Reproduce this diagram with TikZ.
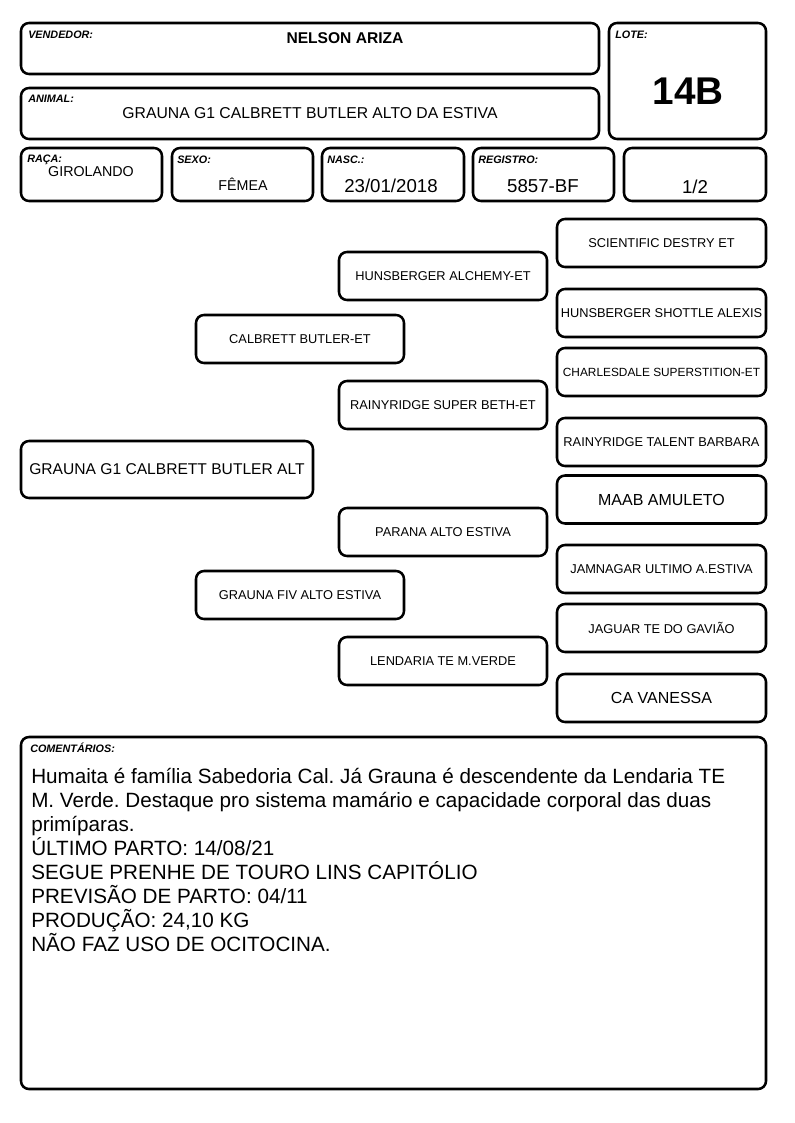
\documentclass[tikz,border=0pt]{standalone}
\usepackage{fontspec}
\setmainfont{Liberation Sans}
\frenchspacing
\begin{document}
\begin{tikzpicture}[x=0.75pt,y=-0.75pt,
  pb/.style 2 args={draw, line width=1.9pt, rounded corners=6pt,
    minimum width=#1*0.75pt, minimum height=#2*0.75pt, inner sep=0pt, align=center},
  lab/.style={font=\fontsize{8.1}{9}\selectfont\bfseries\itshape, anchor=base west, inner sep=0pt},
  val/.style={inner sep=0pt},
  small/.style={font=\fontsize{9.6}{11}\selectfont},
  big/.style={font=\fontsize{12}{14}\selectfont},
  cline/.style={font=\fontsize{15.5}{18}\selectfont, anchor=base west, inner sep=0pt}]
\useasboundingbox[fill=white] (0,0) rectangle (794,1123);
% header boxes
\node[pb={578}{51}] (vend) at (310,48.5) {};
\node[pb={578}{51}] (anim) at (310,113.5) {};
\node[pb={157}{116}] (lote) at (687.5,81) {};
\node[pb={141}{53}] (raca) at (91.5,174.5) {};
\node[pb={141}{53}] (sexo) at (242.5,174.5) {};
\node[pb={142}{53}] (nasc) at (393,174.5) {};
\node[pb={141}{53}] (reg) at (543.5,174.5) {};
\node[pb={142}{53}] (half) at (695,174.5) {};
% labels
\node[lab] (lvend) at (28,39) {VENDEDOR:};
\node[lab] (lanim) at (28,103) {ANIMAL:};
\node[lab] (llote) at (615,39) {LOTE:};
\node[lab] (lraca) at (27,163) {RAÇA:};
\node[lab] (lsexo) at (177,164) {SEXO:};
\node[lab] (lnasc) at (327,164) {NASC.:};
\node[lab] (lreg) at (478,164) {REGISTRO:};
% values
\node[val, font=\fontsize{11.7}{13}\selectfont\bfseries] (vvend) at (345,38) {NELSON ARIZA};
\node[val, font=\fontsize{11.8}{13}\selectfont] (vanim) at (310,113) {GRAUNA G1 CALBRETT BUTLER ALTO DA ESTIVA};
\node[val, font=\fontsize{29}{32}\selectfont\bfseries] (vlote) at (688,91) {14B};
\node[val, font=\fontsize{10.7}{12}\selectfont] (vraca) at (91,172) {GIROLANDO};
\node[val, font=\fontsize{10.7}{12}\selectfont] (vsexo) at (243,184) {FÊMEA};
\node[val, font=\fontsize{14}{16}\selectfont] (vnasc) at (391,186) {23/01/2018};
\node[val, font=\fontsize{14}{16}\selectfont] (vreg) at (543,186) {5857-BF};
\node[val, font=\fontsize{14}{16}\selectfont] (vhalf) at (695,187) {1/2};
% pedigree
\node[pb={292}{57}, font=\fontsize{11.7}{13}\selectfont] (p0) at (167,469.5) {GRAUNA G1 CALBRETT BUTLER ALT};
\node[pb={208}{48}, small] (p1) at (300,339) {CALBRETT BUTLER-ET};
\node[pb={208}{48}, small] (p2) at (300,595) {GRAUNA FIV ALTO ESTIVA};
\node[pb={208}{48}, small] (p11) at (443,276) {HUNSBERGER ALCHEMY-ET};
\node[pb={208}{48}, small] (p12) at (443,405) {RAINYRIDGE SUPER BETH-ET};
\node[pb={208}{48}, small] (p21) at (443,532) {PARANA ALTO ESTIVA};
\node[pb={208}{48}, small] (p22) at (443,661) {LENDARIA TE M.VERDE};
\node[pb={209}{48}, small] (p111) at (661.5,243) {SCIENTIFIC DESTRY ET};
\node[pb={209}{48}, small] (p112) at (661.5,313) {HUNSBERGER SHOTTLE ALEXIS};
\node[pb={209}{48}, font=\fontsize{8.9}{10}\selectfont] (p121) at (661.5,372) {CHARLESDALE SUPERSTITION-ET};
\node[pb={209}{48}, small] (p122) at (661.5,442) {RAINYRIDGE TALENT BARBARA};
\node[pb={209}{48}, big] (p211) at (661.5,499.5) {MAAB AMULETO};
\node[pb={209}{48}, small] (p212) at (661.5,569) {JAMNAGAR ULTIMO A.ESTIVA};
\node[pb={209}{48}, small] (p221) at (661.5,628) {JAGUAR TE DO GAVIÃO};
\node[pb={209}{48}, big] (p222) at (661.5,698) {CA VANESSA};
% comments
\node[pb={745}{352}] (com) at (393.5,913) {};
\node[lab] (lcom) at (30,752) {COMENTÁRIOS:};
\node[cline] (c1) at (31,783) {Humaita é família Sabedoria Cal. Já Grauna é descendente da Lendaria TE};
\node[cline] (c2) at (31,807) {M. Verde. Destaque pro sistema mamário e capacidade corporal das duas};
\node[cline] (c3) at (31,831) {primíparas.};
\node[cline] (c4) at (31,855) {ÚLTIMO PARTO: 14/08/21};
\node[cline] (c5) at (31,879) {SEGUE PRENHE DE TOURO LINS CAPITÓLIO};
\node[cline] (c6) at (31,903) {PREVISÃO DE PARTO: 04/11};
\node[cline] (c7) at (31,927) {PRODUÇÃO: 24,10 KG};
\node[cline] (c8) at (31,951) {NÃO FAZ USO DE OCITOCINA.};
\end{tikzpicture}
\end{document}
